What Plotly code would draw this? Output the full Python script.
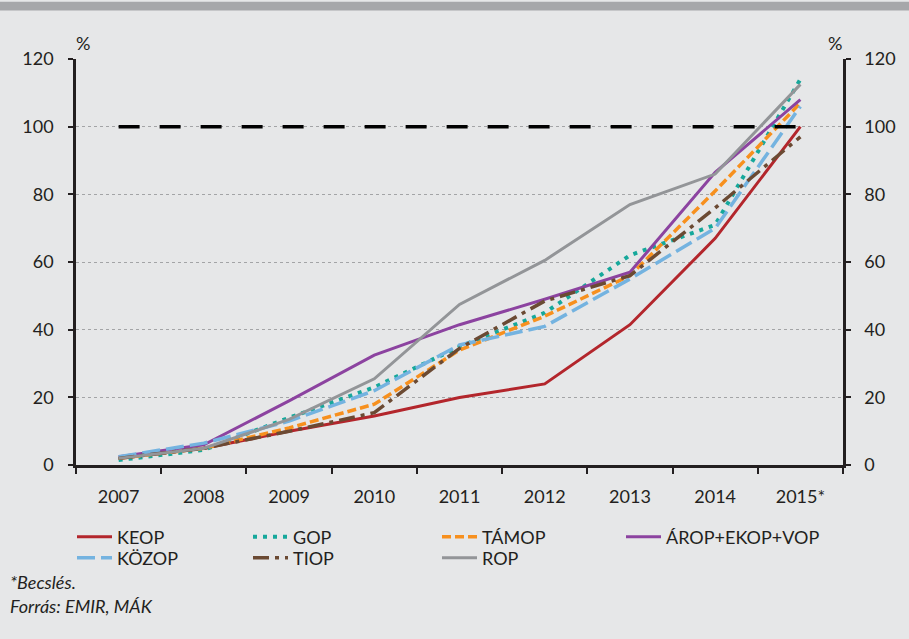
import plotly.graph_objects as go

years = ["2007", "2008", "2009", "2010", "2011", "2012", "2013", "2014", "2015*"]
keop = [2, 5, 10, 14.5, 20, 24, 41.5, 67, 100]
gop = [1.5, 4.5, 14, 23, 35, 45, 62, 71, 114]
tamop = [2, 5, 11, 18, 34, 44, 56, 81, 107]
arop = [2.5, 6, 19, 32.5, 41.5, 49, 57, 86.5, 108]
kozop = [2.5, 6.5, 13, 22, 35.5, 41, 55, 70, 106]
tiop = [2, 5, 10, 15.5, 34.5, 48.5, 56, 76, 97]
rop = [2, 5, 13.5, 25.5, 47.5, 60.5, 77, 86, 112.5]
target = [100] * 9
y_ticks = [0, 20, 40, 60, 80, 100, 120]

FONT = "Lato"
BG = "#e6e7e8"
W, H = 909, 639
L, R, T, B = 76, 66, 59, 161
PW, PH = W - L - R, H - T - B

# name, values, colour, dash, width, legend text x, legend row y
series = [
    ("KEOP", keop, "#b3262c", "solid", 3, 118, 537),
    ("GOP", gop, "#16a89b", "4px,6px", 4, 294, 537),
    ("TÁMOP", tamop, "#f7901e", "9px,4px", 3.5, 483, 537),
    ("ÁROP+EKOP+VOP", arop, "#8c43a0", "solid", 3, 667, 537),
    ("KÖZOP", kozop, "#74b3e0", "18px,6px", 3.5, 118, 558),
    ("TIOP", tiop, "#6b4a33", "16px,6px,4px,6px", 3.5, 294, 558),
    ("ROP", rop, "#939598", "solid", 3, 483, 558),
]

fig = go.Figure()
legends = {}
for i, (name, vals, color, dash, w, lx, ly) in enumerate(series):
    key = "legend" if i == 0 else f"legend{i + 1}"
    fig.add_trace(go.Scatter(x=years, y=vals, name=name, mode="lines",
                             legend=key,
                             line=dict(color=color, dash=dash, width=w)))
    legends[key] = dict(xref="container", yref="container",
                        x=(lx - 46) / W, y=1 - ly / H,
                        xanchor="left", yanchor="middle",
                        orientation="h", itemwidth=35,
                        bgcolor="rgba(0,0,0,0)",
                        font=dict(family=FONT, size=18, color="#231f20"))
fig.add_trace(go.Scatter(x=years, y=target, mode="lines", showlegend=False,
                         line=dict(color="black", dash="21px,20px", width=3.5),
                         hoverinfo="skip"))
fig.add_trace(go.Scatter(x=years, y=target, yaxis="y2", mode="lines",
                         showlegend=False, line=dict(width=0), opacity=0,
                         hoverinfo="skip"))

tickfont = dict(family=FONT, size=18, color="#231f20")

fig.update_layout(
    width=W, height=H,
    paper_bgcolor=BG, plot_bgcolor=BG,
    margin=dict(l=L, r=R, t=T, b=B),
    font=dict(family=FONT, color="#231f20"),
    xaxis=dict(type="category", range=[-0.5, 8.5], tickson="boundaries",
               ticks="outside", ticklen=6, tickwidth=2, tickcolor="#231f20",
               showline=True, linecolor="#231f20", linewidth=2.5,
               showgrid=False, tickfont=tickfont, ticklabelstandoff=13,
               zeroline=False),
    yaxis=dict(range=[0, 120], tickvals=y_ticks, ticks="outside", ticklen=5,
               tickwidth=2, tickcolor="#231f20", showline=True,
               linecolor="#231f20", linewidth=2.5, showgrid=True,
               gridcolor="#a3a4a6", griddash="dot", gridwidth=1,
               zeroline=False, tickfont=tickfont, ticklabelstandoff=11),
    yaxis2=dict(range=[0, 120], tickvals=y_ticks, overlaying="y", side="right",
                anchor="x", ticks="outside", ticklen=5, tickwidth=2,
                tickcolor="#231f20", showline=True, linecolor="#231f20",
                linewidth=2.5, showgrid=False, zeroline=False,
                tickfont=tickfont, ticklabelstandoff=10),
    showlegend=True,
    hovermode=False,
    **legends,
)

fig.add_shape(type="rect", xref="paper", yref="paper", x0=-L / PW,
              x1=1 + R / PW, y0=1 + (T - 9) / PH, y1=1 + T / PH,
              fillcolor="#a6a7aa", line=dict(width=0), layer="below")

for px in (83, 835):
    fig.add_annotation(text="%", xref="paper", yref="paper",
                       x=(px - L) / PW, y=(H - B - 43) / PH,
                       showarrow=False, xanchor="center", yanchor="middle",
                       font=dict(family=FONT, size=18, color="#231f20"))

for txt, py in (("<i>*Becslés.</i>", 599), ("<i>Forrás: EMIR, MÁK</i>", 623)):
    fig.add_annotation(text=txt, xref="paper", yref="paper",
                       x=(8 - L) / PW, y=(H - B - py) / PH, xanchor="left",
                       yanchor="middle", showarrow=False,
                       font=dict(family=FONT, size=18, color="#231f20"))

fig.write_html("out.html", config={"displayModeBar": False},
               post_script="document.body.style.margin='0';")
